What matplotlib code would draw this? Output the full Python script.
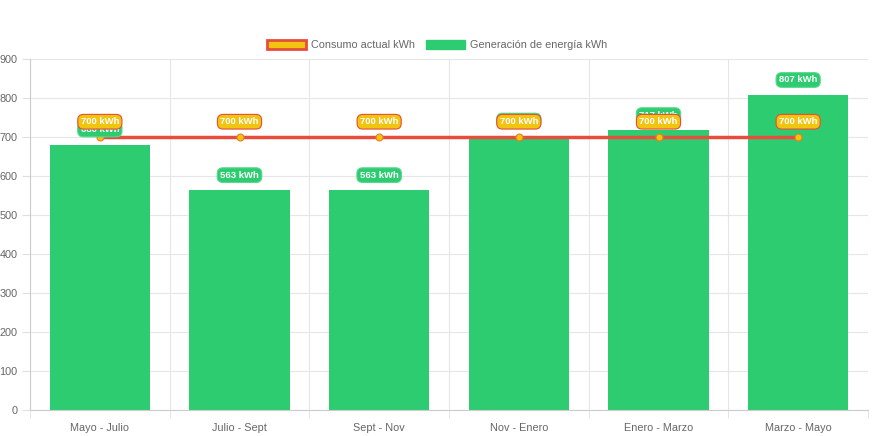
import matplotlib.pyplot as plt
from matplotlib.patches import Patch
import numpy as np

periodos = ['Mayo - Julio', 'Julio - Sept', 'Sept - Nov', 'Nov - Enero', 'Enero - Marzo', 'Marzo - Mayo']
generacion = [680, 563, 563, 703, 717, 807]
consumo = [700, 700, 700, 700, 700, 700]

verde = '#2ecc71'
amarillo = '#f1c40f'
rojo = '#e74c3c'
gris = '#666666'

plt.rcParams['font.family'] = ['Liberation Sans', 'DejaVu Sans']

fig = plt.figure(figsize=(8.73, 4.36), dpi=100)
ax = fig.add_axes([30/873, 26/436, 838/873, 351/436])

x = np.arange(len(periodos))
ax.bar(x, generacion, width=0.72, color=verde, zorder=2)
ax.plot(x, consumo, color=rojo, lw=2.5, zorder=3,
        marker='o', ms=5, mfc=amarillo, mec='#e67e22', mew=0.8)

ax.set_xlim(-0.5, len(periodos) - 0.5)
ax.set_ylim(0, 900)
ax.set_yticks(range(0, 901, 100))
ax.set_xticks(x)
ax.set_xticklabels(periodos)
ax.set_xticks(np.arange(-0.5, len(periodos), 1), minor=True)
ax.grid(False)
ax.yaxis.grid(True, color='#e6e6e6', lw=0.8, zorder=0)
ax.xaxis.grid(True, which='minor', color='#e6e6e6', lw=0.8, zorder=0)
ax.tick_params(axis='both', which='both', colors='#e0e0e0', labelcolor=gris, labelsize=7.8, length=6)
ax.tick_params(axis='x', which='major', length=0, pad=9)
ax.tick_params(axis='y', pad=3)
for s in ['top', 'right']:
    ax.spines[s].set_visible(False)
ax.spines['left'].set_color('#cccccc')
ax.spines['bottom'].set_color('#cccccc')

# etiquetas de generación
for xi, v in zip(x, generacion):
    ax.annotate(f'{v} kWh', (xi, v), xytext=(0, 11), textcoords='offset points',
                ha='center', va='center', fontsize=6.8, fontweight='bold', color='white', zorder=4,
                bbox=dict(boxstyle='round,pad=0.3,rounding_size=0.6', fc=verde, ec='#5ad88d', lw=0.8))

# etiquetas de consumo
for xi, v in zip(x, consumo):
    ax.annotate(f'{v} kWh', (xi, v), xytext=(0, 11), textcoords='offset points',
                ha='center', va='center', fontsize=6.8, fontweight='bold', color='white', zorder=5,
                bbox=dict(boxstyle='round,pad=0.3,rounding_size=0.6', fc=amarillo, ec=rojo, lw=0.8))

handles = [Patch(fc=amarillo, ec=rojo, lw=2, label='Consumo actual kWh'),
           Patch(fc=verde, ec=verde, label='Generación de energía kWh')]
fig.legend(handles=handles, loc='center', bbox_to_anchor=(437/873, 1 - 45/436), ncol=2,
           frameon=False, fontsize=7.8, labelcolor=gris, handlelength=3.6, handleheight=0.9,
           columnspacing=1.0, handletextpad=0.5)

fig.savefig('out.png', dpi=100)
